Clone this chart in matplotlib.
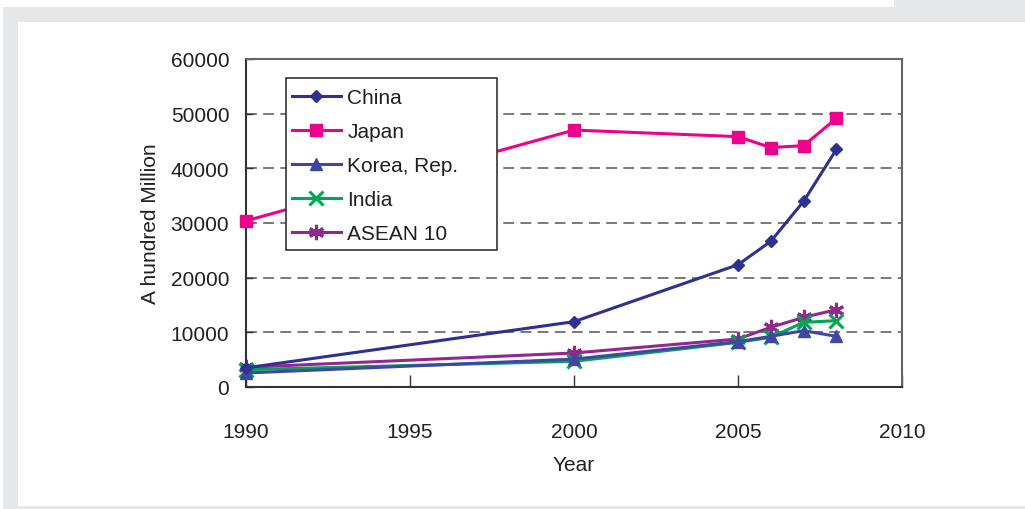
import matplotlib
matplotlib.use("Agg")
import matplotlib.pyplot as plt
from matplotlib.patches import Rectangle

plt.rcParams['font.family'] = ['Liberation Sans', 'DejaVu Sans']

years = [1990, 2000, 2005, 2006, 2007, 2008]
china = [3500, 11950, 22370, 26650, 33960, 43470]
japan = [30400, 47000, 45800, 43800, 44150, 49150]
korea = [2560, 5100, 8290, 9270, 10300, 9270]
india = [3170, 4700, 8170, 9090, 11830, 12130]
asean = [3600, 6220, 8780, 10920, 12750, 14140]

series_names = ["China", "Japan", "Korea, Rep.", "India", "ASEAN 10"]
x_ticks = [1990, 1995, 2000, 2005, 2010]
y_ticks = [0, 10000, 20000, 30000, 40000, 50000, 60000]

W, H = 1025, 510
fig = plt.figure(figsize=(W / 100, H / 100), dpi=100)
fig.patch.set_facecolor('white')

grey = '#E6E7E8'
def px_rect(x0, y0, x1, y1):
    fig.patches.append(Rectangle((x0 / W, 1 - y1 / H), (x1 - x0) / W, (y1 - y0) / H,
                                 transform=fig.transFigure, facecolor=grey,
                                 edgecolor='none', zorder=0))
px_rect(3, 8, 1025, 23)
px_rect(894, 0, 1025, 23)
px_rect(3, 8, 18, 510)
px_rect(3, 507, 1025, 510)

AX_L, AX_T, AX_W, AX_H = 246, 60, 656, 328
ax = fig.add_axes([AX_L / W, 1 - (AX_T + AX_H) / H, AX_W / W, AX_H / H])
ax.set_facecolor('none')

def ax_frac(px, py):
    return (px - AX_L) / AX_W, (AX_T + AX_H - py) / AX_H

txt = '#231F20'
styles = [
    dict(color='#2E3192', marker='D', ms=6.5, zorder=6),
    dict(color='#EC008C', marker='s', ms=8.5, zorder=5),
    dict(color='#3F47A3', marker='^', ms=8.5, zorder=4),
    dict(color='#00A651', marker='x', ms=10, mew=2.2, zorder=3),
    dict(color='#92278F', marker=(6, 2, 0), ms=11, mew=2.2, zorder=2),
]
for name, vals, st in zip(series_names, [china, japan, korea, india, asean], styles):
    ax.plot(years, vals, lw=2.2, label=name, clip_on=False, **st)

ax.set_xlim(1990, 2010)
ax.set_ylim(0, 60000)
ax.set_xticks(x_ticks)
ax.set_yticks(y_ticks)
ax.tick_params(axis='x', direction='in', length=9, width=1, pad=25,
               labelsize=15, labelcolor=txt, color='#333333')
ax.tick_params(axis='y', direction='in', length=5, width=1, pad=12,
               labelsize=15, labelcolor=txt, color='#333333')

for y in y_ticks[1:-1]:
    ax.axhline(y, color='#6e6e6e', lw=1.3, ls=(0, (6, 3.5)), zorder=1)

for side in ['left', 'bottom']:
    ax.spines[side].set_color('#333333')
    ax.spines[side].set_linewidth(1.5)
for side in ['top', 'right']:
    ax.spines[side].set_color('#666666')
    ax.spines[side].set_linewidth(1.5)

ax.set_xlabel('Year', fontsize=15, color=txt, labelpad=10)
ax.set_ylabel('A hundred Million', fontsize=15, color=txt, labelpad=8)

# legend box drawn as its own rectangle so it keeps the wide right margin
bx0, by0 = ax_frac(286, 251)
bx1, by1 = ax_frac(497, 79)
ax.add_patch(Rectangle((bx0, by0), bx1 - bx0, by1 - by0, transform=ax.transAxes,
                       facecolor='white', edgecolor='#333333', lw=1.2, zorder=9))

lx, ly = ax_frac(292, 89)
leg = ax.legend(loc='upper left', bbox_to_anchor=(lx, ly),
                borderaxespad=0, fontsize=15, frameon=False,
                handlelength=2.35, handletextpad=0.3, borderpad=0,
                labelspacing=0.72)
for t in leg.get_texts():
    t.set_color(txt)
leg.set_zorder(10)

fig.savefig('out.png', dpi=100, facecolor=fig.get_facecolor())
